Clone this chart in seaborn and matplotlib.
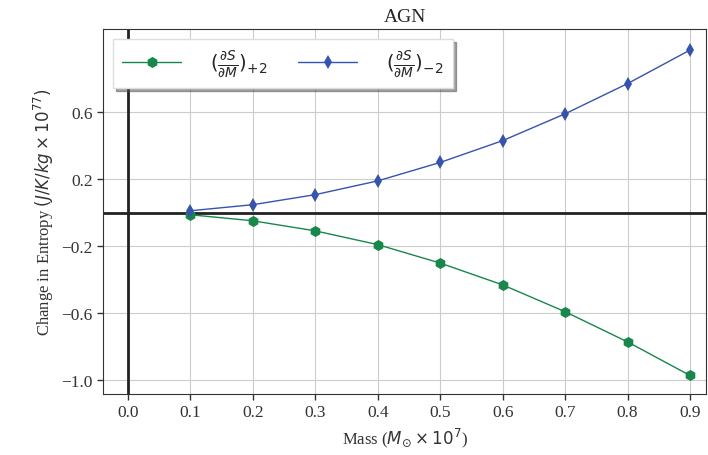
import numpy as np
import pandas as pd
import seaborn as sns
import matplotlib.pyplot as plt

mass = [0.1, 0.2, 0.3, 0.4, 0.5, 0.6, 0.7, 0.8, 0.9]
ds_plus = [-0.012, -0.048, -0.108, -0.19, -0.30, -0.43, -0.59, -0.77, -0.97]
ds_minus = [0.012, 0.048, 0.108, 0.19, 0.30, 0.43, 0.59, 0.77, 0.97]
x_ticks = [0.0, 0.1, 0.2, 0.3, 0.4, 0.5, 0.6, 0.7, 0.8, 0.9]
y_ticks = [-1.0, -0.6, -0.2, 0.2, 0.6]

lab_p = r'$(\frac{\partial S}{\partial M})_{+2}$'
lab_m = r'$(\frac{\partial S}{\partial M})_{-2}$'

df = pd.DataFrame({
    'mass': mass + mass,
    'ds': ds_plus + ds_minus,
    'series': [lab_p] * len(mass) + [lab_m] * len(mass),
})

sns.set_style('whitegrid', {'axes.edgecolor': '#333333', 'grid.color': '#cccccc',
                            'xtick.bottom': True, 'ytick.left': True})
plt.rcParams['font.family'] = ['Liberation Serif', 'DejaVu Serif']

fig = plt.figure(figsize=(7.08, 4.56), dpi=100)
ax = fig.add_axes([0.1455, 0.134, 0.852, 0.80])

ax.axhline(0, color='#222222', lw=2, zorder=1)
ax.axvline(0, color='#222222', lw=2, zorder=1)

sns.lineplot(data=df, x='mass', y='ds', hue='series', style='series',
             palette={lab_p: '#17874a', lab_m: '#3653ad'},
             markers={lab_p: 'h', lab_m: 'd'}, dashes=False,
             markersize=8, markeredgewidth=0, lw=1, ax=ax, zorder=3)
# diamonds a bit slimmer than the hexagons
for ln in ax.lines:
    if ln.get_marker() == 'd':
        ln.set_markersize(7)

ax.set_xlim(-0.04, 0.926)
ax.set_ylim(-1.08, 1.095)
ax.set_xticks(x_ticks)
ax.set_yticks(y_ticks)
ax.tick_params(labelsize=12.5, colors='#333333', length=4, width=1)
ax.set_title('AGN', fontsize=14)
ax.set_xlabel(r'Mass ($M_{\odot}\times 10^7$)', fontsize=12, color='#333333')
ax.set_ylabel(r'Change in Entropy $(J/K/kg\times 10^{77})$', fontsize=12, color='#333333')

leg = ax.legend(loc='upper left', ncol=2, fontsize=14, frameon=True, shadow=True,
                fancybox=False, borderpad=0.5, columnspacing=1.6, handlelength=3.0,
                handletextpad=1.5)
leg.get_frame().set_edgecolor('#dddddd')

fig.savefig('out.png', dpi=100)
